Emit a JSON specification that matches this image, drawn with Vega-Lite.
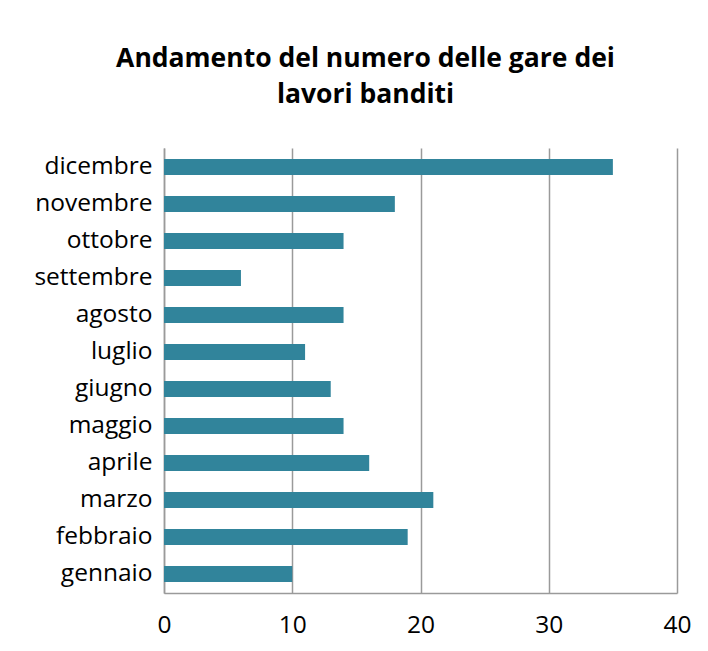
{
  "$schema": "https://vega.github.io/schema/vega-lite/v6.json",
  "width": 513,
  "height": 445,
  "autosize": {"type": "none"},
  "padding": {"left": 164, "top": 148, "right": 31, "bottom": 58},
  "background": "white",
  "title": {
    "text": ["Andamento del numero delle gare dei", "lavori banditi"],
    "font": "Open Sans",
    "fontSize": 26.5,
    "fontWeight": "bold",
    "color": "#000000",
    "anchor": "middle",
    "dx": -55,
    "offset": 40,
    "lineHeight": 36
  },
  "data": {
    "values": [
      {"mese": "gennaio", "gare": 10},
      {"mese": "febbraio", "gare": 19},
      {"mese": "marzo", "gare": 21},
      {"mese": "aprile", "gare": 16},
      {"mese": "maggio", "gare": 14},
      {"mese": "giugno", "gare": 13},
      {"mese": "luglio", "gare": 11},
      {"mese": "agosto", "gare": 14},
      {"mese": "settembre", "gare": 6},
      {"mese": "ottobre", "gare": 14},
      {"mese": "novembre", "gare": 18},
      {"mese": "dicembre", "gare": 35}
    ]
  },
  "mark": {"type": "bar", "color": "#31849B"},
  "encoding": {
    "y": {
      "field": "mese",
      "type": "nominal",
      "sort": ["dicembre", "novembre", "ottobre", "settembre", "agosto", "luglio", "giugno", "maggio", "aprile", "marzo", "febbraio", "gennaio"],
      "scale": {"paddingInner": 0.57, "paddingOuter": 0.3},
      "axis": {
        "title": null,
        "ticks": false,
        "labelFont": "Open Sans",
        "labelFontSize": 24.5,
        "labelColor": "#000000",
        "labelPadding": 12,
        "domainColor": "#9a9a9a",
        "domainWidth": 1.5
      }
    },
    "x": {
      "field": "gare",
      "type": "quantitative",
      "scale": {"domain": [0, 40]},
      "axis": {
        "title": null,
        "values": [0, 10, 20, 30, 40],
        "ticks": false,
        "labelFont": "Open Sans",
        "labelFontSize": 24.5,
        "labelColor": "#000000",
        "labelPadding": 20,
        "labelFlush": false,
        "domainColor": "#9a9a9a",
        "domainWidth": 1.5,
        "grid": true,
        "gridColor": "#9a9a9a",
        "gridWidth": 1.5
      }
    }
  },
  "config": {"view": {"stroke": null}}
}
